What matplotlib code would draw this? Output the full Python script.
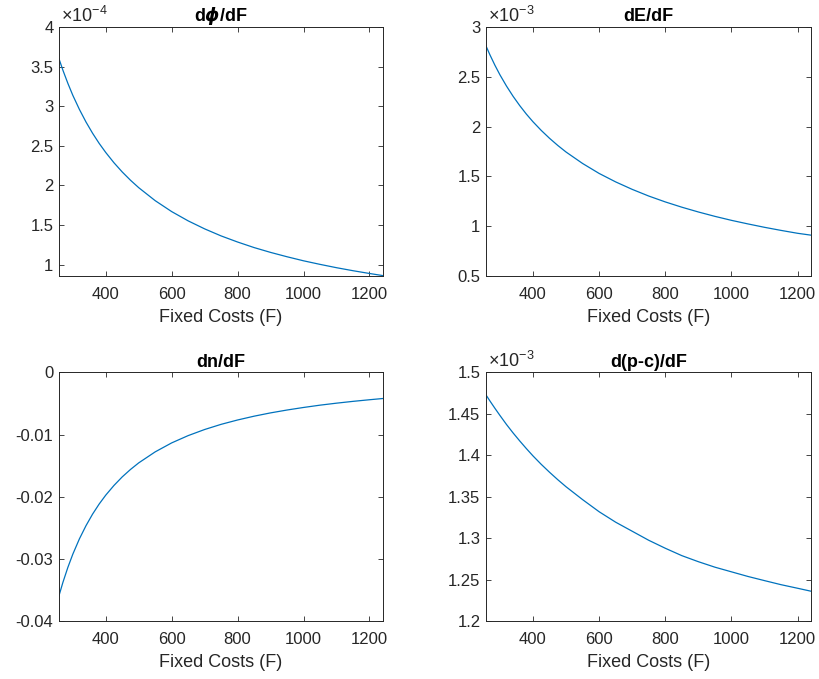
import numpy as np
import matplotlib
matplotlib.use('Agg')
import matplotlib.pyplot as plt
from matplotlib.ticker import FuncFormatter, MultipleLocator

plt.rcParams['font.family'] = ['Liberation Sans', 'DejaVu Sans']
plt.rcParams['mathtext.fontset'] = 'custom'
plt.rcParams['mathtext.rm'] = 'Liberation Sans'
plt.rcParams['mathtext.it'] = 'DejaVu Sans:italic:bold'
plt.rcParams['mathtext.bf'] = 'Liberation Sans:bold'
plt.rcParams['axes.unicode_minus'] = False

# fixed costs (x axis)
F = [258, 270, 285, 300, 320, 340, 360, 380, 400, 425, 450, 475, 500, 550, 600, 650,
     700, 750, 800, 850, 900, 950, 1000, 1050, 1100, 1150, 1200, 1241]

# d(phi)/dF  (x 1e-4)
dphi = [3.600, 3.454, 3.289, 3.138, 2.960, 2.801, 2.659, 2.531, 2.416, 2.286, 2.170, 2.066, 1.972, 1.808,
        1.670, 1.553, 1.452, 1.363, 1.286, 1.216, 1.155, 1.100, 1.049, 1.004, 0.962, 0.924, 0.889, 0.862]
# dE/dF  (x 1e-3)
dE = [2.810, 2.720, 2.616, 2.521, 2.407, 2.304, 2.211, 2.126, 2.049, 1.962, 1.883, 1.811, 1.745, 1.630,
      1.530, 1.445, 1.370, 1.303, 1.244, 1.191, 1.143, 1.099, 1.059, 1.023, 0.989, 0.958, 0.929, 0.910]
# dn/dF
dn = [-0.03590, -0.03374, -0.03134, -0.02922, -0.02676, -0.02464, -0.02278, -0.02116, -0.01973,
      -0.01817, -0.01680, -0.01561, -0.01455, -0.01278, -0.01134, -0.01017, -0.00919, -0.00836,
      -0.00766, -0.00705, -0.00652, -0.00606, -0.00565, -0.00528, -0.00496, -0.00467, -0.00441, -0.00421]
# d(p-c)/dF  (x 1e-3)
dpc = [1.4727, 1.4654, 1.4566, 1.4481, 1.4371, 1.4269, 1.4173, 1.4081, 1.3993, 1.3891, 1.3796, 1.3706,
       1.3621, 1.3466, 1.3320, 1.3194, 1.3085, 1.2976, 1.2880, 1.2791, 1.2718, 1.2652, 1.2596, 1.2540,
       1.2490, 1.2441, 1.2398, 1.2362]

panels = [
    (dphi, r'd$\phi$/dF', (0.857, 4.0), 0.5, -4),
    (dE, 'dE/dF', (0.5, 3.0), 0.5, -3),
    (dn, 'dn/dF', (-0.04, 0.0), 0.01, None),
    (dpc, 'd(p-c)/dF', (1.2, 1.5), 0.05, -3),
]

positions = [
    [0.072, 0.5935, 0.3956, 0.3667],
    [0.5934, 0.5935, 0.397, 0.3667],
    [0.072, 0.085, 0.3956, 0.3667],
    [0.5934, 0.085, 0.397, 0.3667],
]

dark = '#262626'
fig = plt.figure(figsize=(8.19, 6.79), dpi=100)

for (vals, title, ylim, step, expo), pos in zip(panels, positions):
    ax = fig.add_axes(pos)
    ax.plot(F, vals, color='#0072BD', lw=0.9)
    ax.set_xlim(258, 1241)
    ax.set_ylim(*ylim)
    ax.xaxis.set_major_locator(MultipleLocator(200))
    ax.yaxis.set_major_locator(MultipleLocator(step))
    ax.yaxis.set_major_formatter(FuncFormatter(lambda v, p: '%g' % round(v, 6)))
    ax.tick_params(direction='in', length=3.5, width=0.6, colors=dark,
                   labelsize=12, top=True, right=True)
    ax.tick_params(axis='x', pad=8)
    ax.tick_params(axis='y', pad=4)
    for s in ax.spines.values():
        s.set_color(dark)
        s.set_linewidth(0.7)
    ax.set_title(title, fontsize=13, fontweight='bold', pad=4, color='black')
    ax.set_xlabel('Fixed Costs (F)', fontsize=13, color=dark, labelpad=5)
    if expo is not None:
        ax.text(0.005, 1.006, r'$\times\mathregular{10^{%d}}$' % expo, transform=ax.transAxes,
                ha='left', va='bottom', fontsize=13, color=dark)

fig.savefig('out.png', dpi=100)
